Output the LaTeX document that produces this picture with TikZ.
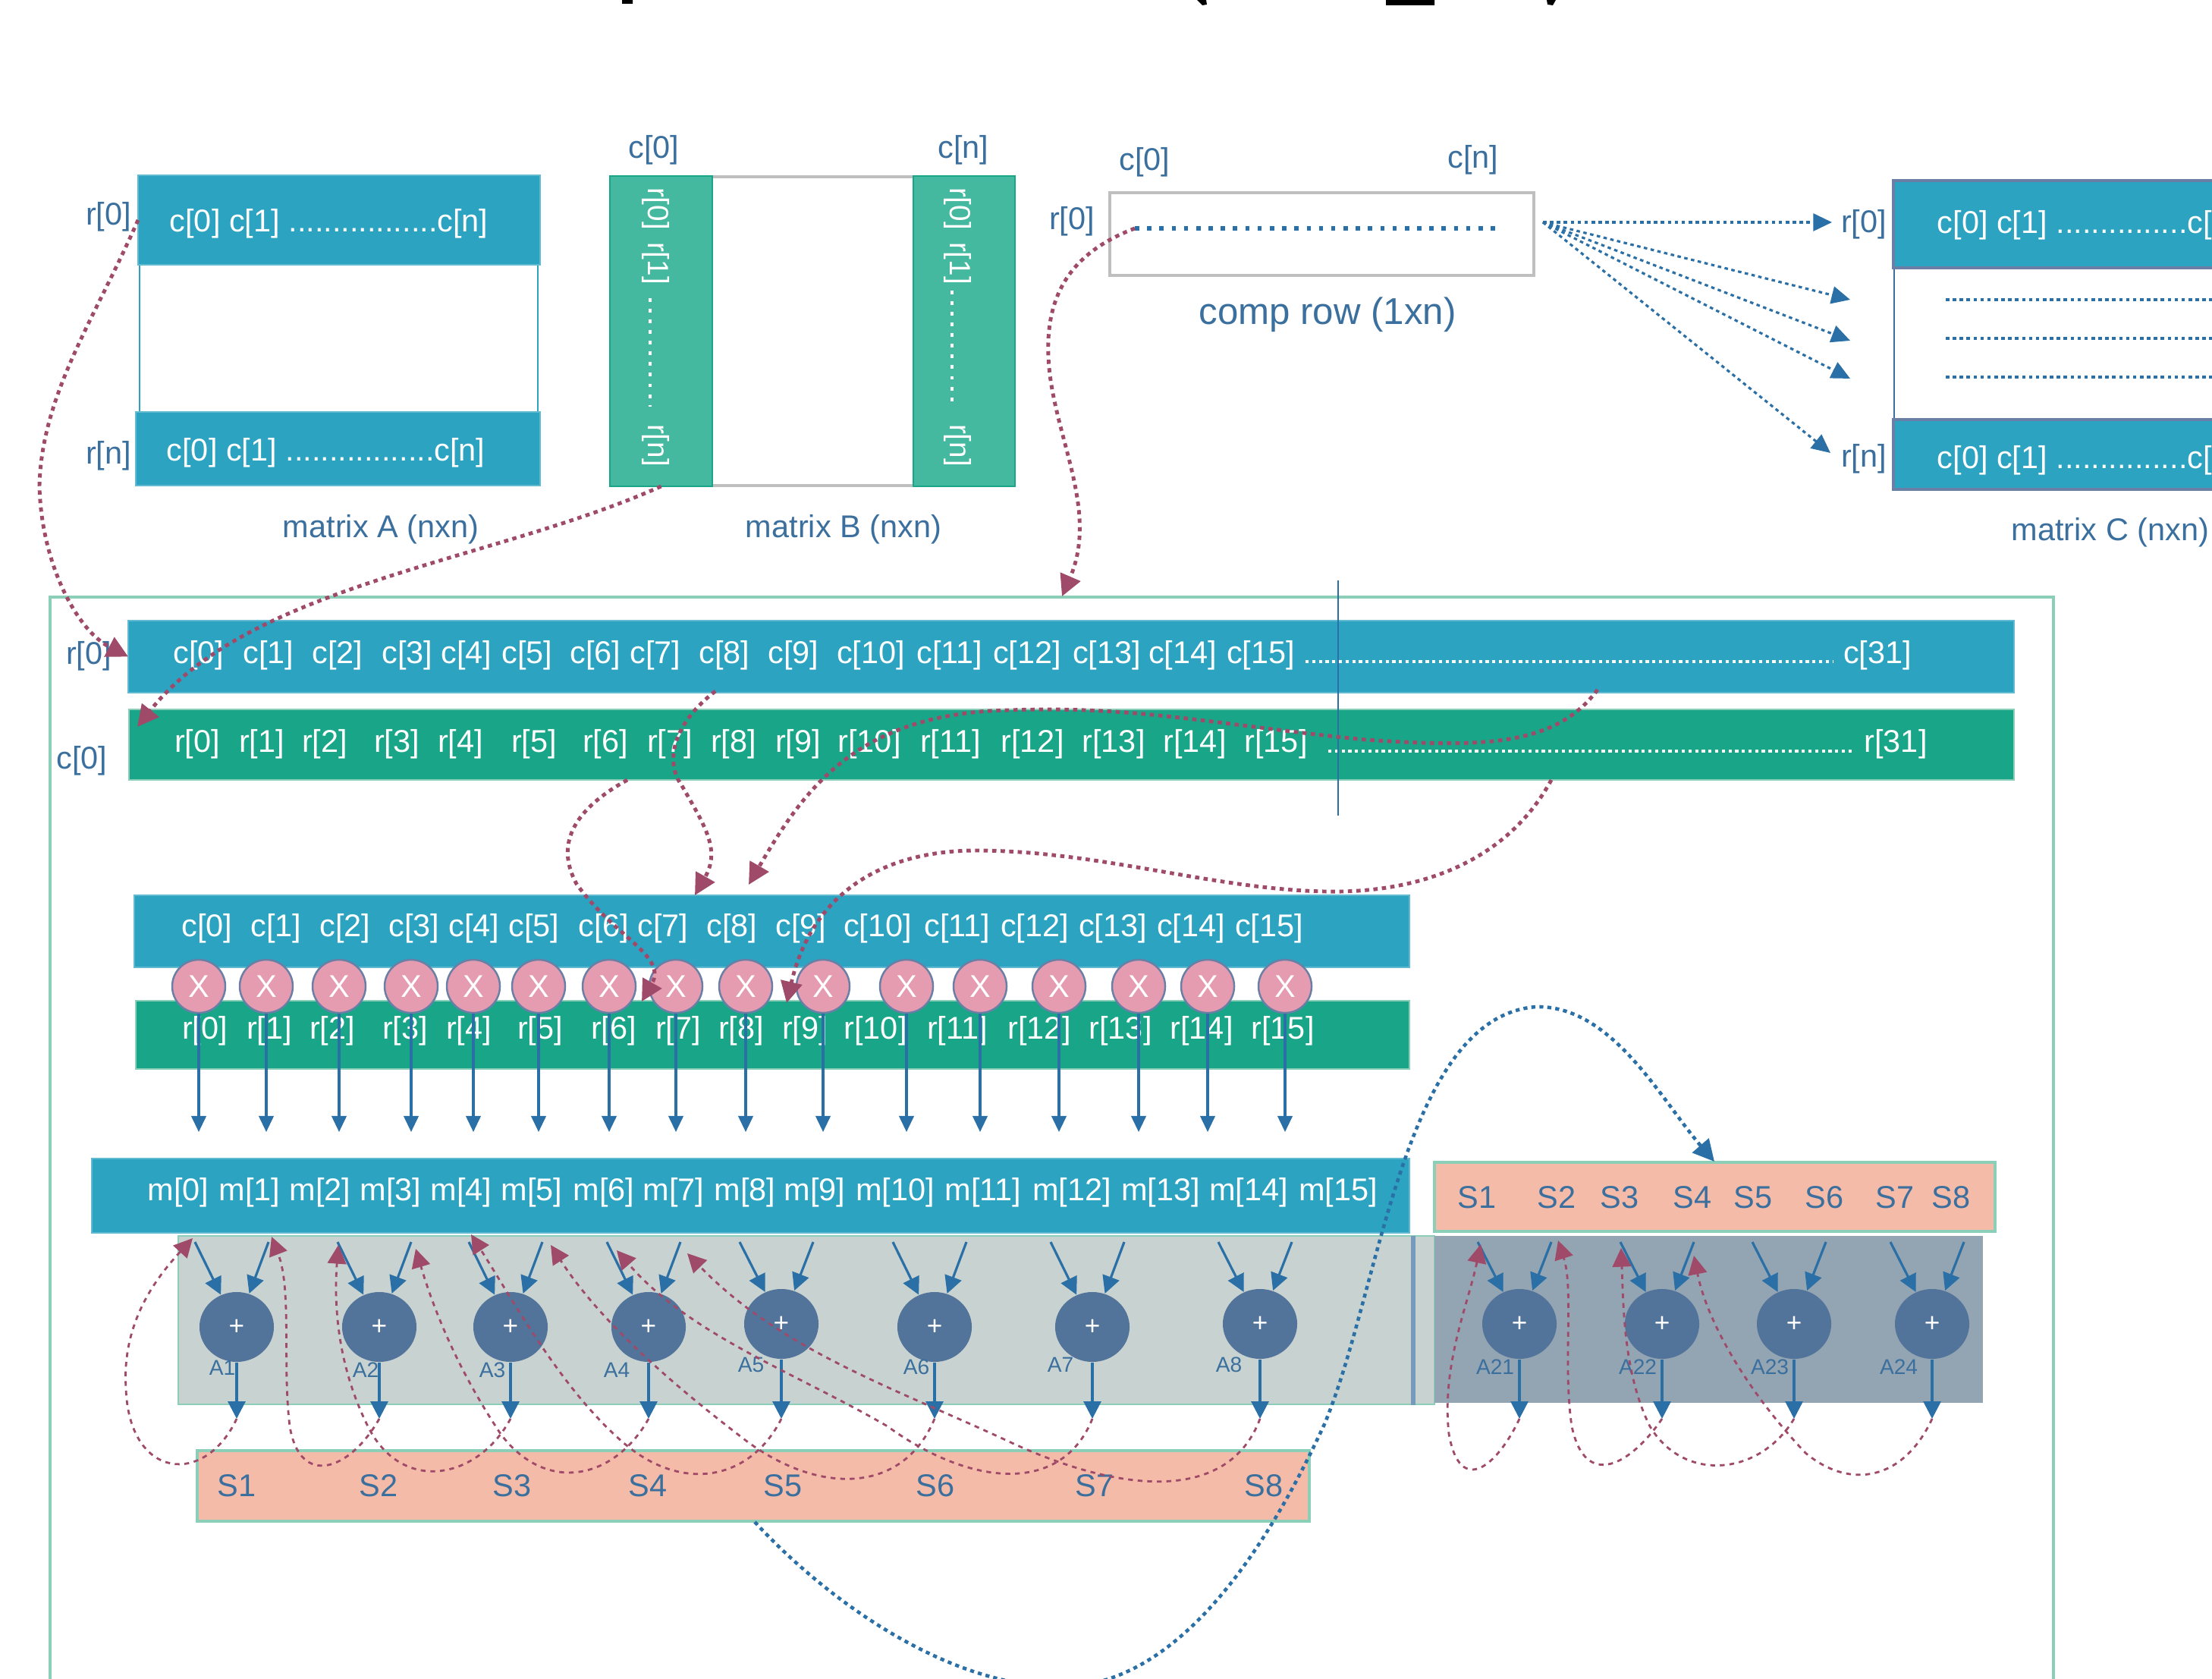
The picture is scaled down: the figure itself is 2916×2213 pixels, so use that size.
\documentclass[tikz,border=0pt]{standalone}
\usepackage{fontspec}
\setmainfont{Liberation Sans}
\usetikzlibrary{arrows.meta,shapes.geometric}
\definecolor{bandblue}{HTML}{2CA3C0}
\definecolor{bandgreen}{HTML}{19A688}
\definecolor{softgreen}{HTML}{45B8A0}
\definecolor{framegreen}{HTML}{8CCFB8}
\definecolor{inkblue}{HTML}{3A6F9E}
\definecolor{lineblue}{HTML}{2A6FA5}
\definecolor{linkred}{HTML}{A04A6A}
\definecolor{salmon}{HTML}{F4BBA8}
\definecolor{xpink}{HTML}{E59BB0}
\definecolor{xedge}{HTML}{6A7FA5}
\definecolor{addfill}{HTML}{52739A}
\definecolor{addpale}{HTML}{C8D2D0}
\definecolor{adddark}{HTML}{93A4B2}
\tikzset{
  bandbox/.style n args={2}{rectangle,anchor=north west,inner sep=0pt,outer sep=0pt,minimum width=#1*0.01cm,minimum height=#2*0.01cm},
  label/.style={font=\fontsize{11.8}{13}\selectfont,text=inkblue,inner sep=0pt},
  celltext/.style={font=\fontsize{11.8}{13}\selectfont,text=white,inner sep=0pt},
  sidetext/.style={font=\fontsize{11}{12}\selectfont,text=white,inner sep=0pt,rotate=-90},
  addlabel/.style={font=\fontsize{8}{9}\selectfont,text=inkblue,inner sep=0pt},
  blueband/.style={bandbox={#1},fill=bandblue,draw=bandblue!75!white,line width=0.8pt},
  greenband/.style={bandbox={#1},fill=bandgreen,draw=framegreen,line width=0.8pt},
  saltband/.style={bandbox={#1},fill=salmon,draw=framegreen,line width=1pt},
  mulnode/.style={circle,minimum size=0.7cm,inner sep=0pt,fill=xpink,draw=xedge,line width=0.7pt,text=white,font=\fontsize{11.8}{13}\selectfont},
  addnode/.style={ellipse,minimum width=0.98cm,minimum height=0.92cm,inner sep=0pt,fill=addfill,text=white,font=\fontsize{10}{11}\selectfont},
  blueflow/.style={-{Triangle[length=6.5pt,width=6.5pt]},lineblue,line width=0.9pt},
  bluedots/.style={-{Triangle[length=7pt,width=6.5pt]},lineblue,line width=0.9pt,dash pattern=on 1.3pt off 1.3pt},
  bluefat/.style={-{Triangle[length=8pt,width=8pt]},lineblue,line width=1.3pt,dash pattern=on 1.5pt off 1.5pt},
  redfat/.style={-{Triangle[length=8pt,width=8pt]},linkred,line width=1.4pt,dash pattern=on 1.6pt off 1.6pt},
  redthin/.style={-{Triangle[length=7pt,width=7pt]},linkred,line width=0.8pt,dash pattern=on 1.8pt off 1.8pt},
}
\begin{document}
\begin{tikzpicture}[x=0.01cm,y=-0.01cm]
\useasboundingbox (0,0) rectangle (2916,2213);
\clip (0,0) rectangle (2916,2213);
% what is left of the cut-off heading
\fill[black] (820,0) rectangle (834,5) (1827,0) rectangle (1891,7);
\fill[black] (1578,0) -- (1590,0) -- (1591,6) -- (1585,7) -- cycle;
\fill[black] (2039,0) -- (2051,0) -- (2047,7) -- (2040,6) -- cycle;
% matrix A
\draw[bandblue,line width=0.7pt] (184,349) rectangle (709,543);
\node[blueband={530}{118}] (topA) at (182,231) {};
\node[blueband={533}{97}] (botA) at (179,543) {};
\node[celltext,anchor=west] at (223,295) {c[0] c[1] .................c[n]};
\node[celltext,anchor=west] at (219,597) {c[0] c[1] .................c[n]};
\node[label] at (143,286) {r[0]};
\node[label] at (143,601) {r[n]};
\node[label] at (502,698) {matrix A (nxn)};
% matrix B
\draw[black!25,line width=0.9pt] (939,233) -- (1204,233) (939,640) -- (1204,640);
\node[bandbox={135}{409},fill=softgreen,draw=bandgreen,line width=0.8pt] (leftB) at (804,232) {};
\node[bandbox={134}{409},fill=softgreen,draw=bandgreen,line width=0.8pt] (rightB) at (1204,232) {};
\foreach \xb/\yd in {864/393,1262/383}{
  \node[sidetext] at (\xb,275) {r[0]};
  \node[sidetext] at (\xb,347) {r[1]};
  \node[sidetext] at (\xb,587) {r[n]};
  \draw[white,line width=1pt,dash pattern=on 1.4pt off 2.6pt] (\xb-7,\yd) -- (\xb-7,536);
}
\node[label] at (862,198) {c[0]};
\node[label] at (1270,198) {c[n]};
\node[label] at (1112,698) {matrix B (nxn)};
% comp row
\node[bandbox={559}{109},fill=white,draw=black!25,line width=0.9pt] (compRow) at (1463,254) {};
\coordinate (dotsL) at (1496,301);
\coordinate (dotsR) at (1975,301);
\draw[lineblue,line width=1.5pt,dash pattern=on 1.6pt off 3pt] (dotsL) -- (dotsR);
\node[label] at (1509,214) {c[0]};
\node[label] at (1942,211) {c[n]};
\node[label] at (1413,292) {r[0]};
\node[label,font=\fontsize{14}{16}\selectfont] at (1750,415) {comp row (1xn)};
% matrix C
\draw[inkblue,line width=0.7pt] (2497,353) -- (2497,553);
\node[bandbox={500}{115},fill=bandblue,draw=xedge,line width=1pt] (topC) at (2496,238) {};
\node[bandbox={500}{92},fill=bandblue,draw=xedge,line width=1pt] (botC) at (2496,553) {};
\node[celltext,anchor=west] at (2553,297) {c[0] c[1] ...............c[n]};
\node[celltext,anchor=west] at (2553,607) {c[0] c[1] ...............c[n]};
\foreach \yd in {395,446,497}
  \draw[lineblue,line width=0.9pt,dash pattern=on 1.3pt off 1.3pt] (2565,\yd) -- (2916,\yd);
\node[label] at (2457,296) {r[0]};
\node[label] at (2457,605) {r[n]};
\node[label] at (2782,702) {matrix C (nxn)};
% comp row copied into C
\coordinate (fan) at (2034,293);
\foreach \xf/\yf [count=\i] in {2415/293,2439/395,2439/449,2439/499,2413/597}{
  \coordinate (fan\i) at (\xf,\yf);
  \draw[bluedots] (fan) -- (fan\i);
}
% big frame
\node[bandbox={2641}{1600},draw=framegreen,line width=0.9pt] (frame) at (66,787) {};
% first c and r rows
\node[blueband={2486}{95}] (rowC) at (169,818) {};
\node[greenband={2485}{93}] (rowR) at (170,935) {};
\foreach \xc/\nm in {262/0,354/1,445/2,537/3,615/4,695/5,785/6,864/7,955/8,1046/9,1148/10,1252/11,1354/12,1459/13,1559/14,1662/15,2475/31}
  \node[celltext] at (\xc,864) {c[\nm]};
\foreach \xc/\nm in {260/0,345/1,428/2,523/3,607/4,704/5,798/6,883/7,967/8,1052/9,1146/10,1253/11,1361/12,1468/13,1575/14,1682/15,2499/31}
  \node[celltext] at (\xc,981) {r[\nm]};
\draw[white,line width=0.9pt,dash pattern=on 1.2pt off 1.3pt] (1721,872) -- (2416,872);
\draw[white,line width=0.9pt,dash pattern=on 1.2pt off 1.3pt] (1751,990) -- (2445,990);
\node[label] at (117,865) {r[0]};
\node[label] at (108,1003) {c[0]};
\draw[lineblue,line width=0.7pt] (1764,765) -- (1764,1075);
% second c and r rows, with the products
\node[blueband={1681}{95}] (subC) at (177,1180) {};
\node[greenband={1679}{90}] (subR) at (179,1319) {};
\foreach \xc/\nm in {273/0,364/1,455/2,546/3,625/4,704/5,796/6,874/7,965/8,1056/9,1157/10,1262/11,1364/12,1467/13,1570/14,1673/15}
  \node[celltext] at (\xc,1224) {c[\nm]};
\foreach \xc/\nm in {270/0,355/1,438/2,534/3,618/4,712/5,809/6,894/7,977/8,1061/9,1154/10,1262/11,1370/12,1477/13,1584/14,1691/15}
  \node[celltext] at (\xc,1359) {r[\nm]};
\foreach \xm [count=\i] in {262,351,447,542,624,710,803,891,983,1085,1195,1292,1396,1501,1592,1694}{
  \node[mulnode] (mul\i) at (\xm,1300) {X};
  \coordinate (mulOut\i) at (\xm,1492);
  \draw[blueflow,-{Triangle[length=6pt,width=5.5pt]}] (mul\i) -- (mulOut\i);
}
% m row
\node[blueband={1737}{98}] (rowM) at (121,1527) {};
\foreach \xc/\nm in {235/0,329/1,422/2,515/3,608/4,701/5,796/6,888/7,982/8,1074/9,1180/10,1296/11,1413/12,1530/13,1646/14,1764/15}
  \node[celltext] at (\xc,1572) {m[\nm]};
% adders
\node[bandbox={1656}{222},fill=addpale,draw=framegreen,line width=0.8pt] (addBack) at (235,1629) {};
\fill[inkblue!70!white] (1860,1629) rectangle (1866,1852);
\node[bandbox={723}{220},fill=adddark,draw=none] (addDark) at (1891,1629) {};
\node[saltband={739}{91}] (rowS2) at (1891,1532) {};
\node[saltband={1466}{93}] (rowS) at (260,1912) {};
\foreach \xc/\nm in {312/1,499/2,675/3,854/4,1032/5,1233/6,1443/7,1666/8}
  \node[label] at (\xc,1958) {S\nm};
\foreach \xc/\nm in {1947/1,2052/2,2135/3,2231/4,2311/5,2405/6,2498/7,2572/8}
  \node[label] at (\xc,1578) {S\nm};
\foreach \xa/\ya/\xt/\yt/\nm in {312/1749/293/1803/1,500/1749/482/1806/2,673/1749/649/1806/3,855/1749/813/1806/4,1030/1745/990/1799/5,1232/1749/1208/1802/6,1440/1749/1398/1799/7,1661/1745/1620/1799/8,2003/1745/1971/1802/21,2191/1745/2159/1802/22,2365/1745/2333/1802/23,2547/1745/2503/1802/24}{
  \node[addnode] (add\nm) at (\xa,\ya) {+};
  \node[addlabel] at (\xt,\yt) {A\nm};
  \coordinate (inL\nm) at (\xa-55,1637);
  \coordinate (inR\nm) at (\xa+42,1637);
  \coordinate (out\nm) at (\xa,1870);
  \draw[blueflow] (inL\nm) -- (add\nm);
  \draw[blueflow] (inR\nm) -- (add\nm);
  \draw[blueflow] (add\nm) -- (out\nm);
}
% carries between the adders
\coordinate (back1) at (254,1632);
\coordinate (back2) at (358,1630);
\coordinate (back3) at (446,1641);
\coordinate (back4) at (548,1646);
\coordinate (back5) at (621,1627);
\coordinate (back6) at (726,1641);
\coordinate (back7) at (813,1648);
\coordinate (back8) at (906,1652);
\coordinate (back21) at (1952,1640);
\coordinate (back22) at (2054,1635);
\coordinate (back23) at (2137,1645);
\coordinate (back24) at (2233,1655);
\draw[redthin] (out1) .. controls (270,1960) and (170,1950) .. (166,1830) .. controls (160,1740) and (210,1680) .. (back1);
\draw[redthin] (out2) .. controls (460,1940) and (395,1960) .. (382,1880) .. controls (372,1800) and (385,1700) .. (back2);
\draw[redthin] (out3) .. controls (630,1950) and (530,1970) .. (485,1880) .. controls (445,1800) and (440,1720) .. (back3);
\draw[redthin] (out4) .. controls (810,1950) and (720,1970) .. (660,1890) .. controls (600,1800) and (570,1720) .. (back4);
\draw[redthin] (out5) .. controls (990,1950) and (900,1970) .. (820,1900) .. controls (740,1830) and (680,1720) .. (back5);
\draw[redthin] (out6) .. controls (1190,1970) and (1080,1970) .. (985,1900) .. controls (880,1820) and (790,1740) .. (back6);
\draw[redthin] (out7) .. controls (1400,1970) and (1280,1960) .. (1170,1880) .. controls (1050,1810) and (910,1760) .. (back7);
\draw[redthin] (out8) .. controls (1620,1980) and (1480,1970) .. (1330,1900) .. controls (1180,1830) and (1030,1780) .. (back8);
\draw[redthin] (out21) .. controls (1975,1930) and (1925,1975) .. (1910,1890) .. controls (1900,1800) and (1935,1720) .. (back21);
\draw[redthin] (out22) .. controls (2150,1930) and (2090,1965) .. (2072,1880) .. controls (2060,1800) and (2075,1700) .. (back22);
\draw[redthin] (out23) .. controls (2320,1945) and (2220,1955) .. (2175,1880) .. controls (2140,1810) and (2140,1720) .. (back23);
\draw[redthin] (out24) .. controls (2510,1950) and (2440,1965) .. (2380,1915) .. controls (2300,1830) and (2250,1740) .. (back24);
% loads into the rows
\coordinate (rowRIn) at (181,958);
\coordinate (frameIn) at (1400,786);
\coordinate (subCIn) at (916,1180);
\coordinate (subCIn2) at (987,1166);
\coordinate (mulIn7) at (846,1320);
\coordinate (mulIn10) at (1037,1322);
\coordinate (fromC8) at (943,911);
\coordinate (fromC31) at (2106,909);
\coordinate (fromR7) at (827,1028);
\coordinate (fromR31) at (2045,1028);
\draw[redfat] (topA.west) .. controls (125,420) and (55,520) .. (52,640) .. controls (54,740) and (100,830) .. (rowC.west);
\draw[redfat] (leftB.south) .. controls (650,740) and (330,770) .. (rowRIn);
\draw[redfat] (dotsL) .. controls (1420,330) and (1378,380) .. (1382,470) .. controls (1386,570) and (1450,670) .. (frameIn);
\draw[redfat] (fromC8) .. controls (880,960) and (880,1010) .. (898,1034) .. controls (930,1090) and (950,1120) .. (subCIn);
\draw[redfat] (fromC31) .. controls (2050,985) and (1950,985) .. (1800,975) .. controls (1600,955) and (1500,930) .. (1330,936) .. controls (1130,940) and (1060,1040) .. (subCIn2);
\draw[redfat] (fromR7) .. controls (760,1065) and (730,1110) .. (760,1165) .. controls (810,1235) and (880,1260) .. (mulIn7);
\draw[redfat] (fromR31) .. controls (1990,1130) and (1880,1178) .. (1746,1175) .. controls (1600,1172) and (1450,1122) .. (1291,1121) .. controls (1160,1120) and (1070,1180) .. (mulIn10);
% sums carried over to the next block
\coordinate (sumOut) at (995,2006);
\coordinate (sumIn) at (2260,1531);
\draw[bluefat] (sumOut) .. controls (1100,2120) and (1270,2235) .. (1420,2222) .. controls (1570,2205) and (1680,2020) .. (1746,1877) .. controls (1820,1700) and (1850,1340) .. (2025,1327) .. controls (2125,1325) and (2190,1450) .. (sumIn);
\end{tikzpicture}
\end{document}
